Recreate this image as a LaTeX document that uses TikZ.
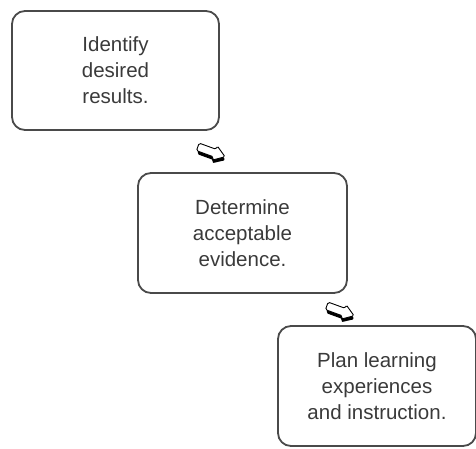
\documentclass[tikz,border=0pt]{standalone}
\usepackage{fontspec}
\setmainfont{Liberation Sans}
\definecolor{boxline}{HTML}{4A4A4A}
\definecolor{boxtext}{HTML}{3A3A3A}
\tikzset{
  stage/.style={draw=boxline, line width=1.8pt, rounded corners=13pt, align=center,
    text=boxtext, font=\fontsize{20.5}{26}\selectfont},
  flowarrow/.pic={
    \fill[black, rounded corners=1.5pt] (-13,-1) -- (4,-1) -- (4,-4.5) -- (15.5,3) -- (4,10.5) -- (4,7) -- (-13,7) -- cycle;
    \draw[black, fill=white, line width=0.9pt, rounded corners=1.5pt] (-15,-4) -- (3,-4) -- (3,-7.5) -- (14,0) -- (3,7.5) -- (3,4) -- (-15,4) -- cycle;
  }
}
\begin{document}
\begin{tikzpicture}[x=1pt, y=-1pt]
  \useasboundingbox (0,0) rectangle (476,448);
  % the three stages
  \node[stage, minimum width=207pt, minimum height=119pt] (results) at (115.5,70.5) {Identify\\ desired\\ results.};
  \node[stage, minimum width=209pt, minimum height=120pt] (evidence) at (242.5,233) {Determine\\ acceptable\\ evidence.};
  \node[stage, minimum width=198pt, minimum height=120pt] (plan) at (377,386) {Plan learning\\ experiences\\ and instruction.};
  % arrows between them
  \coordinate (a1) at ([xshift=-8pt]results.south east |- 0,152);
  \coordinate (a2) at ([xshift=-7pt]evidence.south east |- 0,311);
  \pic[rotate=-20] at (a1) {flowarrow};
  \pic[rotate=-20] at (a2) {flowarrow};
\end{tikzpicture}
\end{document}
